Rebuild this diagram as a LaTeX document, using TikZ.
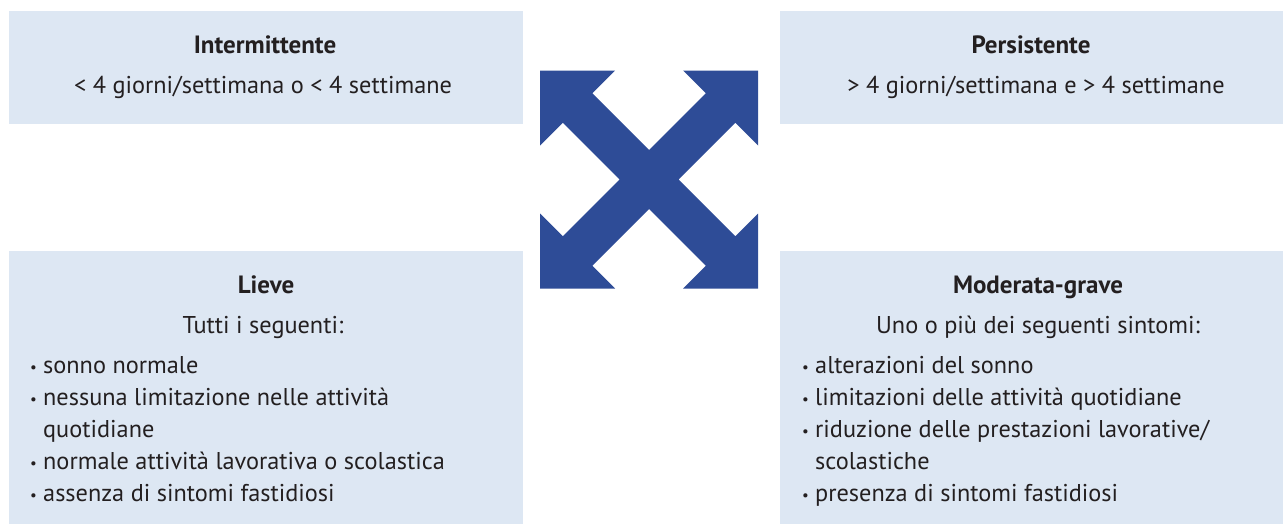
\documentclass[tikz,border=0pt]{standalone}
\usepackage{fontspec}
\setmainfont{PT Sans}
\definecolor{boxbg}{HTML}{DDE7F3}
\definecolor{arrowblue}{HTML}{2E4C97}
\definecolor{textgray}{HTML}{231F20}
\newcommand{\bul}{\makebox[13pt][l]{\raisebox{1pt}{\fontsize{15}{15}\selectfont •}}}
\begin{document}
\begin{tikzpicture}[x=1pt,y=-1pt,
  panel/.style={fill=boxbg,draw=none,inner sep=0,anchor=north west},
  ttl/.style={font=\fontsize{25}{30}\selectfont\bfseries,text=textgray,anchor=base,inner sep=0},
  sub/.style={font=\fontsize{24.3}{32}\selectfont,text=textgray,anchor=base,inner sep=0},
  item/.style={font=\fontsize{24.3}{32}\selectfont,text=textgray,anchor=base west,inner sep=0}]
\path[use as bounding box] (0,0) rectangle (1284,525);
% panels
\node[panel,minimum width=514pt,minimum height=113pt] (tl) at (9,11) {};
\node[panel,minimum width=503pt,minimum height=113pt] (tr) at (780,11) {};
\node[panel,minimum width=514pt,minimum height=273pt] (bl) at (9,251) {};
\node[panel,minimum width=503pt,minimum height=273pt] (br) at (780,251) {};
% arrow
\fill[arrowblue,shift={(649,179.5)}]
  (-109,-109) -- (-34,-109) -- (-56.75,-86.25) -- (0,-29.5) -- (56.75,-86.25) -- (34,-109)
  -- (109,-109) -- (109,-34) -- (86.25,-56.75) -- (29.5,0) -- (86.25,56.75) -- (109,34)
  -- (109,109) -- (34,109) -- (56.75,86.25) -- (0,29.5) -- (-56.75,86.25) -- (-34,109)
  -- (-109,109) -- (-109,34) -- (-86.25,56.75) -- (-29.5,0) -- (-86.25,-56.75) -- (-109,-34) -- cycle;
% top left
\node[ttl] (tlt) at (265,53) {Intermittente};
\node[sub] (tls) at (263,93) {< 4 giorni/settimana o < 4 settimane};
% top right
\node[ttl] (trt) at (1031,53) {Persistente};
\node[sub] (trs) at (1036,93) {> 4 giorni/settimana e > 4 settimane};
% bottom left
\node[ttl] (blt) at (266,293) {Lieve};
\node[sub] (bls) at (263,333) {Tutti i seguenti:};
\node[item] (l1) at (30,373) {\bul sonno normale};
\node[item] (l2) at (30,405) {\bul nessuna limitazione nelle attività};
\node[item] (l3) at (43,437) {quotidiane};
\node[item] (l4) at (30,469) {\bul normale attività lavorativa o scolastica};
\node[item] (l5) at (30,501) {\bul assenza di sintomi fastidiosi};
% bottom right
\node[ttl] (brt) at (1038,293) {Moderata-grave};
\node[sub] (brs) at (1038,333) {Uno o più dei seguenti sintomi:};
\node[item] (r1) at (802,373) {\bul alterazioni del sonno};
\node[item] (r2) at (802,405) {\bul limitazioni delle attività quotidiane};
\node[item] (r3) at (802,437) {\bul riduzione delle prestazioni lavorative/};
\node[item] (r4) at (815,469) {scolastiche};
\node[item] (r5) at (802,501) {\bul presenza di sintomi fastidiosi};
\end{tikzpicture}
\end{document}
